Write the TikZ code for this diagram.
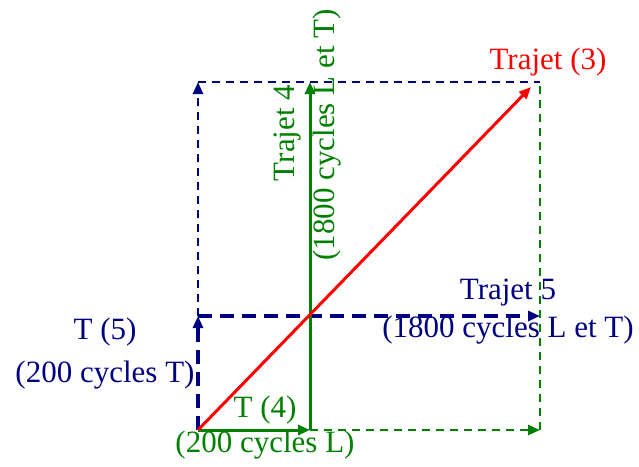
\documentclass[tikz,border=0pt]{standalone}
\usepackage{fontspec}
\setmainfont{Liberation Serif}
\usetikzlibrary{arrows.meta,positioning}
\definecolor{trnavy}{RGB}{0,0,128}
\definecolor{trgreen}{RGB}{0,128,0}
\definecolor{trred}{RGB}{255,0,0}

\begin{document}
\begin{tikzpicture}[x=0.5pt,y=-0.5pt,
  tip/.style={-{Triangle[length=6pt,width=5pt]}},
  bigdash/.style={line width=2pt,dash pattern=on 7pt off 4pt},
  smalldash/.style={line width=1.2pt,dash pattern=on 4pt off 3pt},
  lbl/.style={font=\fontsize{15.5}{18}\selectfont,inner sep=0pt,align=center}
]
  \useasboundingbox (0,0) rectangle (639,467);

  % corners of the path grid
  \coordinate (O) at (198,430);
  \coordinate (L1) at (310,430);
  \coordinate (L2) at (310,82);
  \coordinate (T1) at (198,316);
  \coordinate (T2) at (540,316);
  \coordinate (TL) at (198,82);
  \coordinate (TR) at (540,82);
  \coordinate (BR) at (540,430);
  \coordinate (R) at (531,87);

  % Trajet 5 (blue)
  \draw[trnavy,bigdash,tip] (O) -- (T1);
  \draw[trnavy,bigdash,tip] (T1) -- (T2);
  \draw[trnavy,smalldash,tip] (T1) -- (TL);
  \draw[trnavy,smalldash] (TL) -- (TR);

  % Trajet 4 (green)
  \draw[trgreen,smalldash,tip] (L1) -- (BR);
  \draw[trgreen,smalldash] (BR) -- (TR);
  \draw[trgreen,line width=1.5pt,tip] (O) -- (L1);
  \draw[trgreen,line width=1.5pt,tip] (L1) -- (L2);

  % Trajet (3) (red)
  \draw[trred,line width=1.5pt,tip] (O) -- (R);

  % labels
  \node[lbl,text=trred] (t3) at (548,62) {Trajet (3)};
  \node[lbl,text=trgreen,rotate=90] (t4a) at (288,133) {Trajet 4};
  \node[lbl,text=trgreen,rotate=90] (t4b) at (327,135) {(1800 cycles L et T)};
  \node[lbl,text=trnavy] (t5a) at (508,293) {Trajet 5};
  \node[lbl,text=trnavy] (t5b) at (508,330) {(1800 cycles L et T)};
  \node[lbl,text=trnavy] (s5a) at (105,332) {T (5)};
  \node[lbl,text=trnavy] (s5b) at (105,375) {(200 cycles T)};
  \node[lbl,text=trgreen] (s4a) at (265,410) {T (4)};
  \node[lbl,text=trgreen] (s4b) at (265,445) {(200 cycles L)};
\end{tikzpicture}
\end{document}
